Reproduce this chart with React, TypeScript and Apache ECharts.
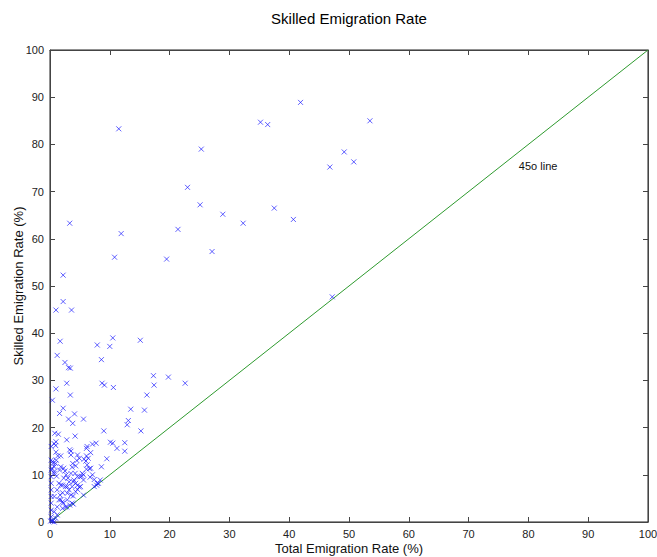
import React, { useEffect, useRef } from "react";
import * as echarts from "echarts";

const titleText = "Skilled Emigration Rate";
const xAxisName = "Total Emigration Rate (%)";
const yAxisName = "Skilled Emigration Rate (%)";
const lineLabel = "45o line";

// Total emigration rate (%) for each country
const totalRate = [
  41.9, 53.5, 35.2, 36.4, 11.5, 25.3, 49.2, 50.8, 46.8, 23.0,
  25.1, 37.5, 28.9, 40.7, 3.3, 32.3, 21.4, 11.9, 27.1, 10.8,
  19.5, 2.2, 47.2, 2.2, 1.0, 3.6, 10.5, 15.1, 1.7, 7.9,
  10.0, 1.2, 8.6, 2.5, 3.1, 3.4, 17.3, 19.8, 2.8, 8.7,
  22.6, 9.1, 17.4, 10.6, 1.0, 3.4, 16.2, 0.4, 2.2, 13.5,
  15.8, 1.6, 4.1, 3.1, 5.6, 13.1, 3.8, 12.9, 9.0, 15.2,
  0.8, 1.4, 4.2, 2.8, 1.0, 10.1, 7.7, 12.5, 10.5, 0.7,
  7.1, 0.95, 6.2, 0.2, 11.2, 6.1, 3.3, 12.5, 1.0, 3.5,
  6.8, 3.5, 4.6, 1.8, 6.1, 1.3, 4.9, 6.4, 9.5, 5.7,
  0.2, 1.05, 4.5, 6.0, 0.4, 0.5, 3.8, 0.95, 6.2, 4.3,
  0.7, 1.8, 8.6, 3.7, 0.3, 2.3, 6.8, 6.6, 6.1, 1.6,
  0.2, 2.5, 0.7, 0.7, 3.5, 5.4, 4.2, 7.1, 2.7, 5.6,
  1.1, 5.3, 0.2, 4.6, 5.0, 6.7, 2.3, 3.0, 7.4, 4.0,
  5.6, 8.4, 3.9, 3.2, 4.3, 1.5, 0.2, 7.9, 8.1, 2.1,
  4.6, 7.8, 1.8, 2.6, 3.7, 5.1, 7.4, 2.9, 4.9, 4.6,
  1.2, 3.2, 0.2, 4.3, 2.1, 2.9, 1.7, 3.5, 5.6, 3.9,
  0.7, 0.2, 1.5, 2.9, 1.8, 2.1, 3.7, 0.2, 2.2, 3.9,
  3.3, 2.8, 1.2, 2.6, 2.1, 0.2, 0.7, 1.2, 0.2, 0.95,
  0.4, 0.4, 0.7, 0.1,
];

// Skilled emigration rate (%) for each country
const skilledRate = [
  88.9, 85.0, 84.7, 84.2, 83.3, 79.0, 78.4, 76.3, 75.2, 70.9,
  67.2, 66.5, 65.2, 64.1, 63.3, 63.3, 62.0, 61.1, 57.3, 56.1,
  55.7, 52.3, 47.7, 46.7, 44.9, 44.9, 39.0, 38.5, 38.3, 37.5,
  37.2, 35.3, 34.4, 33.8, 32.7, 32.6, 31.0, 30.7, 29.4, 29.4,
  29.4, 29.0, 29.0, 28.5, 28.2, 26.9, 26.9, 25.8, 24.1, 23.9,
  23.7, 23.0, 22.9, 21.8, 21.8, 21.5, 20.9, 20.6, 19.3, 19.3,
  18.8, 18.6, 18.2, 17.4, 17.0, 16.9, 16.7, 16.8, 16.7, 16.6,
  16.5, 16.2, 16.0, 16.0, 15.6, 15.6, 15.3, 15.0, 14.8, 15.0,
  14.7, 14.2, 14.2, 14.0, 14.0, 14.0, 13.5, 13.5, 13.4, 13.3,
  13.1, 13.1, 13.0, 12.9, 12.8, 12.4, 12.4, 12.4, 12.1, 11.9,
  11.7, 11.7, 11.7, 11.6, 11.4, 11.4, 11.4, 11.3, 11.2, 11.0,
  11.0, 10.8, 10.7, 10.3, 10.3, 10.3, 10.3, 10.0, 10.0, 10.0,
  9.7, 9.7, 9.6, 9.6, 9.6, 9.5, 9.3, 9.3, 9.0, 8.9,
  8.9, 8.9, 8.5, 8.5, 8.2, 8.2, 8.2, 8.2, 8.2, 7.8,
  7.8, 7.8, 7.8, 7.5, 7.5, 7.5, 7.5, 7.5, 7.4, 6.9,
  6.8, 6.8, 6.8, 6.4, 6.2, 6.1, 5.7, 5.7, 5.7, 5.5,
  5.4, 5.4, 4.7, 4.7, 4.7, 4.3, 4.0, 4.0, 4.0, 3.8,
  3.6, 3.2, 3.2, 3.2, 2.9, 2.5, 2.2, 1.5, 1.1, 0.8,
  0.4, 0.1, 0.0, 0.2,
];

const diagonal = [
  [0, 0],
  [100, 100],
];
const lineLabelAt = [78.4, 75.4];

const axisColor = "#444";
const font = "'Liberation Sans', Arial, Helvetica, sans-serif";

export default function App() {
  const ref = useRef<HTMLDivElement>(null);

  useEffect(() => {
    if (!ref.current) return;
    const chart = echarts.init(ref.current, undefined, { renderer: "svg" });
    const points = totalRate.map((x, i) => [x, skilledRate[i]]);

    const baseAxis = {
      min: 0,
      max: 100,
      interval: 10,
      splitLine: { show: false },
      axisLine: { show: true, onZero: false, lineStyle: { color: axisColor, width: 1 } },
      axisTick: { show: true, inside: true, length: 5, lineStyle: { color: axisColor } },
    };

    chart.setOption({
      animation: false,
      backgroundColor: "#fff",
      textStyle: { fontFamily: font },
      grid: {
        left: 50,
        top: 50,
        width: 598,
        height: 472,
        containLabel: false,
        outerBoundsMode: "none",
        show: true,
        borderColor: "#222",
        borderWidth: 1,
        backgroundColor: "#fff",
      },
      graphic: [
        {
          type: "text",
          x: 349,
          y: 18,
          style: {
            text: titleText,
            textAlign: "center",
            textVerticalAlign: "middle",
            fontSize: 15,
            fontFamily: font,
            fill: "#000",
          },
        },
      ],
      xAxis: [
        {
          ...baseAxis,
          type: "value",
          position: "bottom",
          name: xAxisName,
          nameLocation: "middle",
          nameGap: 20,
          nameMoveOverlap: false,
          nameTextStyle: { fontSize: 13, color: "#111", fontFamily: font },
          axisLabel: { fontSize: 11, color: "#222", margin: 6, fontFamily: font },
        },
        {
          ...baseAxis,
          type: "value",
          position: "top",
          axisLabel: { show: false },
        },
      ],
      yAxis: [
        {
          ...baseAxis,
          type: "value",
          position: "left",
          name: yAxisName,
          nameLocation: "middle",
          nameGap: 25,
          nameMoveOverlap: false,
          nameTextStyle: { fontSize: 13, color: "#111", fontFamily: font },
          axisLabel: { fontSize: 11, color: "#222", margin: 6, fontFamily: font },
        },
        {
          ...baseAxis,
          type: "value",
          position: "right",
          axisLabel: { show: false },
        },
      ],
      series: [
        {
          type: "line",
          data: diagonal,
          symbol: "none",
          lineStyle: { color: "#2e9a2e", width: 1 },
          z: 2,
          markPoint: {
            symbol: "circle",
            symbolSize: 0,
            data: [
              {
                coord: lineLabelAt,
                label: {
                  show: true,
                  position: "right",
                  distance: 0,
                  formatter: lineLabel,
                  fontSize: 11,
                  color: "#111",
                  fontFamily: font,
                },
              },
            ],
          },
        },
        {
          type: "scatter",
          data: points,
          symbol: "path://M0 0L10 10M10 0L0 10",
          symbolSize: 5,
          itemStyle: {
            color: "rgba(0,0,0,0)",
            borderColor: "rgba(20,20,255,0.85)",
            borderWidth: 1,
          },
          z: 3,
        },
      ],
    });

    return () => chart.dispose();
  }, []);

  return (
    <div
      ref={ref}
      style={{ position: "absolute", left: 0, top: 0, width: 657, height: 557 }}
    />
  );
}
